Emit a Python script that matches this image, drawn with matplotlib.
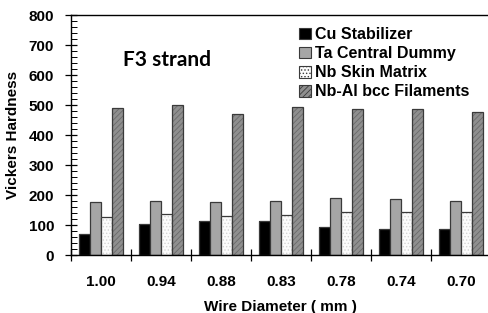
import numpy as np
import matplotlib.pyplot as plt
from matplotlib.patches import Patch
from matplotlib.ticker import MultipleLocator

plt.rcParams['font.family'] = ['Liberation Sans', 'DejaVu Sans']
plt.rcParams['hatch.linewidth'] = 0.6

diameters = ['1.00', '0.94', '0.88', '0.83', '0.78', '0.74', '0.70']
cu = [69, 105, 113, 114, 95, 88, 88]
ta = [177, 180, 177, 180, 190, 188, 180]
nb = [127, 136, 130, 132, 142, 143, 143]
nbal = [489, 499, 470, 494, 486, 486, 476]

series = [
    ('Cu Stabilizer', cu, 'black', None, 'black'),
    ('Ta Central Dummy', ta, '#a6a6a6', None, '#a6a6a6'),
    ('Nb Skin Matrix', nb, '#fbfbfb', '.....', '#d4d4d4'),
    ('Nb-Al bcc Filaments', nbal, '#8f8f8f', '//////', '#6a6a6a'),
]

fig = plt.figure(figsize=(4.89, 3.13), dpi=100)
ax = fig.add_axes([0.145, 0.185, 0.859, 0.767])

x = np.arange(len(diameters))
w = 0.1833
handles = []
for k, (name, vals, fc, hatch, hc) in enumerate(series):
    pos = x + (k - 1.5) * w
    ax.bar(pos, vals, w, color=fc, edgecolor=hc, hatch=hatch, linewidth=0)
    ax.bar(pos, vals, w, fill=False, edgecolor='#3a3a3a', linewidth=0.9)
    handles.append(Patch(facecolor=fc, edgecolor='#3a3a3a', hatch=hatch, linewidth=0.8, label=name))

ax.set_xlim(-0.5, len(diameters) - 0.5)
ax.set_ylim(0, 800)
ax.set_xticks(x)
ax.set_xticklabels(diameters, fontweight='bold', fontsize=11)
ax.set_xticks(np.arange(-0.5, len(diameters)), minor=True)
ax.tick_params(axis='x', which='major', length=0, pad=14)
ax.tick_params(axis='x', which='minor', direction='inout', length=8, width=0.9)
ax.yaxis.set_major_locator(MultipleLocator(100))
ax.yaxis.set_minor_locator(MultipleLocator(20))
ax.tick_params(axis='y', which='major', direction='inout', length=8, width=0.9,
               labelsize=11, pad=8)
ax.tick_params(axis='y', which='minor', direction='in', length=4, width=0.7)
for lab in ax.get_yticklabels():
    lab.set_fontweight('bold')

ax.spines['right'].set_visible(False)
for s in ['top', 'left', 'bottom']:
    ax.spines[s].set_linewidth(1.0)

ax.set_ylabel('Vickers Hardness', fontweight='bold', fontsize=11, labelpad=6)
ax.set_xlabel('Wire Diameter ( mm )', fontweight='bold', fontsize=11, labelpad=8)

ax.text(1.1, 650, 'F3 strand', fontsize=15, fontweight='bold', family=['Lato', 'DejaVu Sans'],
        ha='center', va='center')

ax.legend(handles=handles, loc='upper right', bbox_to_anchor=(0.983, 1.01), frameon=False,
          handlelength=0.75, handleheight=0.75, handletextpad=0.25,
          labelspacing=0.26, prop={'weight': 'bold', 'size': 11.5})

fig.savefig('out.png', dpi=100)
